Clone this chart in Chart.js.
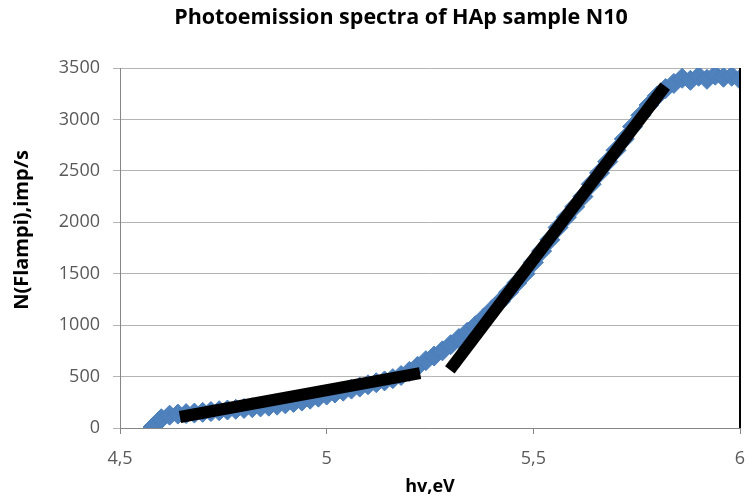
<!DOCTYPE html>
<html>
<head>
<meta charset="utf-8">
<script src="https://cdn.jsdelivr.net/npm/chart.js@4"></script>
<style>
  html, body { margin: 0; padding: 0; background: #fff; }
  #wrap { width: 745px; height: 498px; }
</style>
</head>
<body>
<div id="wrap"><canvas id="spectrum"></canvas></div>
<script>
        // measured photon energy (eV) and counts
        const energy = [4.58, 4.60, 4.62, 4.64, 4.66, 4.68, 4.70, 4.72, 4.74, 4.76,
                        4.78, 4.80, 4.82, 4.84, 4.86, 4.88, 4.90, 4.92, 4.94, 4.96,
                        4.98, 5.00, 5.02, 5.04, 5.06, 5.08, 5.10, 5.12, 5.14, 5.16,
                        5.18, 5.20, 5.22, 5.24, 5.26, 5.28, 5.30, 5.32, 5.34, 5.36,
                        5.38, 5.40, 5.42, 5.44, 5.46, 5.48, 5.50, 5.52, 5.54, 5.56,
                        5.58, 5.60, 5.62, 5.64, 5.66, 5.68, 5.70, 5.72, 5.74, 5.76,
                        5.78, 5.80, 5.82, 5.84, 5.86, 5.88, 5.90, 5.92, 5.94, 5.96,
                        5.98, 6.00];
        const counts = [10, 90, 125, 135, 140, 145, 152, 160, 168, 175,
                        182, 190, 198, 205, 212, 222, 235, 248, 262, 280,
                        300, 320, 340, 358, 378, 398, 420, 440, 458, 480,
                        510, 550, 600, 655, 700, 750, 810, 870, 930, 995,
                        1070, 1150, 1230, 1320, 1410, 1500, 1610, 1720, 1830, 1950,
                        2050, 2150, 2250, 2370, 2480, 2590, 2700, 2810, 2930, 3040,
                        3140, 3230, 3300, 3350, 3400, 3380, 3420, 3390, 3430, 3410,
                        3420, 3390];

        // linear fits drawn over the data
        const fitLowX = [4.645, 5.226];
        const fitLowY = [107, 534];
        const fitHighX = [5.298, 5.819];
        const fitHighY = [564, 3324];
        const edgeX = [6, 6];
        const edgeY = [3500, 0];

        const yTicks = [0, 500, 1000, 1500, 2000, 2500, 3000, 3500];
        const xTicks = [4.5, 5, 5.5, 6];

        function pts(xs, ys) {
            return xs.map(function (x, i) { return { x: x, y: ys[i] }; });
        }

        const FONT = "'Open Sans', 'Liberation Sans', sans-serif";
        const GREY = '#595959';

        // chart title and y-axis title, placed like the original sheet
        const titles = {
            id: 'titles',
            afterDraw: function (chart) {
                const c = chart.ctx;
                c.save();
                c.fillStyle = '#000';
                c.textAlign = 'center';
                c.textBaseline = 'middle';
                c.font = 'bold 21.5px ' + FONT;
                c.fillText('Photoemission spectra of HAp sample N10', 401, 18);
                c.translate(22, 230);
                c.rotate(-Math.PI / 2);
                c.font = 'bold 20px ' + FONT;
                c.fillText('N(Flampi),imp/s', 0, 0);
                c.restore();
            }
        };

        const ctx = document.getElementById('spectrum').getContext('2d');
        const spectrumChart = new Chart(ctx, {
            type: 'scatter',
            data: {
                datasets: [
                    {
                        label: 'fit low',
                        data: pts(fitLowX, fitLowY),
                        showLine: true,
                        borderColor: '#000',
                        borderWidth: 12,
                        borderCapStyle: 'butt',
                        pointRadius: 0,
                        order: 0
                    },
                    {
                        label: 'fit high',
                        data: pts(fitHighX, fitHighY),
                        showLine: true,
                        borderColor: '#000',
                        borderWidth: 12,
                        borderCapStyle: 'butt',
                        pointRadius: 0,
                        order: 0
                    },
                    {
                        label: 'edge',
                        data: pts(edgeX, edgeY),
                        showLine: true,
                        borderColor: '#000',
                        borderWidth: 2,
                        pointRadius: 0,
                        clip: 4,
                        order: 1
                    },
                    {
                        label: 'N10',
                        data: pts(energy, counts),
                        pointStyle: 'rectRot',
                        pointRadius: 10,
                        pointBackgroundColor: '#4F81BD',
                        pointBorderColor: '#4A7EBB',
                        pointBorderWidth: 1,
                        order: 2
                    }
                ]
            },
            options: {
                responsive: true,
                maintainAspectRatio: false,
                animation: false,
                layout: {
                    autoPadding: false,
                    padding: { left: 0, right: 0, top: 68, bottom: 0 }
                },
                plugins: {
                    legend: { display: false },
                    tooltip: { enabled: false },
                    title: { display: false }
                },
                scales: {
                    x: {
                        type: 'linear',
                        min: 4.5,
                        max: 6,
                        afterBuildTicks: function (axis) {
                            axis.ticks = xTicks.map(function (v) { return { value: v }; });
                        },
                        afterFit: function (axis) {
                            axis.height = 70;
                            axis.paddingLeft = 0;
                            axis.paddingRight = 5;
                        },
                        ticks: {
                            color: GREY,
                            font: { family: FONT, size: 18 },
                            padding: 14,
                            maxRotation: 0,
                            callback: function (v) { return String(v).replace('.', ','); }
                        },
                        grid: {
                            drawOnChartArea: false,
                            color: '#868686',
                            tickLength: 6
                        },
                        border: { color: '#868686' },
                        title: {
                            display: true,
                            text: 'hv,eV',
                            color: '#000',
                            font: { family: FONT, size: 18, weight: 'bold' },
                            padding: { top: 4, bottom: 0 }
                        }
                    },
                    y: {
                        min: 0,
                        max: 3500,
                        afterBuildTicks: function (axis) {
                            axis.ticks = yTicks.map(function (v) { return { value: v }; });
                        },
                        afterFit: function (axis) {
                            axis.width = 120;
                            axis.paddingTop = 0;
                            axis.paddingBottom = 0;
                        },
                        ticks: {
                            color: GREY,
                            font: { family: FONT, size: 18 },
                            padding: 13,
                            callback: function (v) { return String(v); }
                        },
                        grid: {
                            color: '#b3b3b3',
                            tickLength: 7
                        },
                        border: { color: '#868686' }
                    }
                }
            },
            plugins: [titles]
        });
</script>
</body>
</html>
